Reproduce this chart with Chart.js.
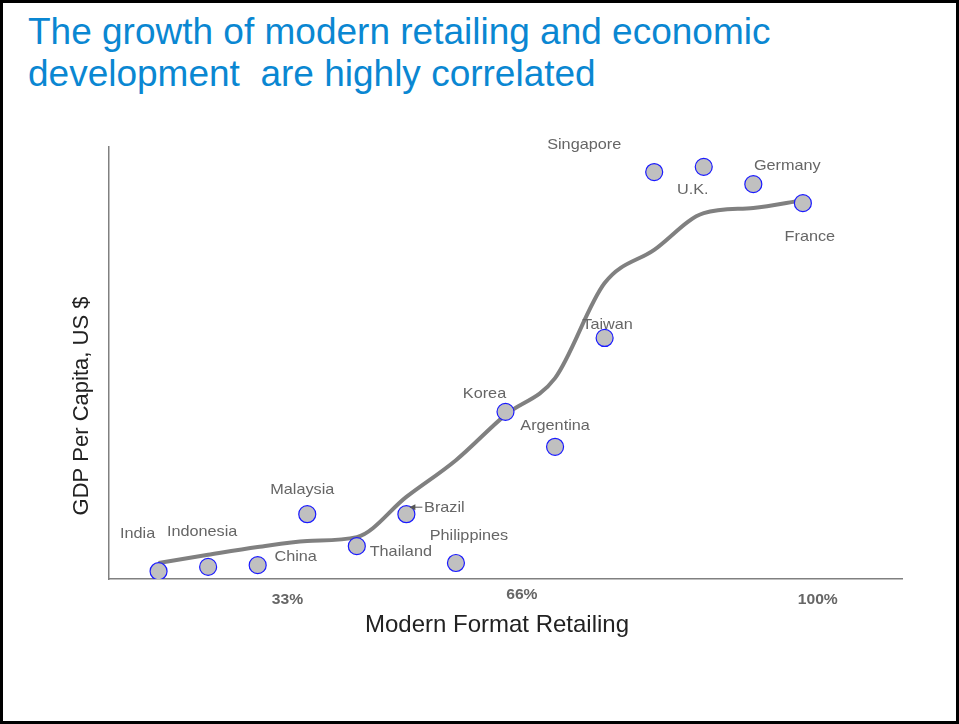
<!DOCTYPE html>
<html>
<head>
<meta charset="utf-8">
<script src="https://cdn.jsdelivr.net/npm/chart.js@4.4.1/dist/chart.umd.min.js"></script>
<style>
    html, body { margin: 0; padding: 0; background: #fff; }
    #frame {
        position: relative;
        width: 959px; height: 724px;
        box-sizing: border-box;
        border: 3px solid #000;
        overflow: hidden;
    }
    #title {
        position: absolute; left: 25px; top: 8px;
        font-family: 'Liberation Sans', Arial, sans-serif;
        font-size: 37px; line-height: 42px;
        color: #0a87d2;
        white-space: pre;
    }
    #chart { position: absolute; left: -3px; top: -3px; }
</style>
</head>
<body>
<div id="frame">
    <div id="title">The growth of modern retailing and economic
development  are highly correlated</div>
    <canvas id="chart" width="959" height="724"></canvas>
</div>
<script>
// Data
const countries = ['India', 'Indonesia', 'China', 'Malaysia', 'Thailand', 'Brazil', 'Philippines',
                   'Korea', 'Argentina', 'Taiwan', 'Singapore', 'U.K.', 'Germany', 'France'];
const retailRank = [1, 2, 3, 4, 5, 6, 7, 8, 9, 10, 11, 12, 13, 14];
const gdpValues = [1.8, 2.8, 3.2, 15.0, 7.6, 15.0, 3.7, 38.7, 30.6, 55.8, 94.2, 95.4, 91.4, 87.0];
const trendValues = [3.7, 5.6, 7.4, 8.8, 9.7, 19.0, 27.5, 38.0, 46.5, 68.5, 76.2, 84.7, 85.9, 87.7];
const tickValues = [3.6, 8.33, 14.3];
const tickLabels = ['33%', '66%', '100%'];

const FONT = "'Liberation Sans', Arial, sans-serif";
const STRETCH = 1.12; // labels in the picture look a bit wider than plain Arial

// label offsets from each point centre (px)
const labelOffset = {
    'India': [-21, -37], 'Indonesia': [-6, -35], 'China': [38, -8], 'Malaysia': [-5, -24],
    'Thailand': [44, 6], 'Brazil': [38, -6], 'Philippines': [13, -27], 'Korea': [-21, -18],
    'Argentina': [0, -21], 'Taiwan': [3, -13], 'Singapore': [-70, -27], 'U.K.': [-11, 23],
    'Germany': [34, -18], 'France': [7, 34]
};

function wideText(ctx, text, x, y) {
    ctx.save();
    ctx.translate(x, y);
    ctx.scale(STRETCH, 1);
    ctx.fillText(text, 0, 0);
    ctx.restore();
}

const textPlugin = {
    id: 'textPlugin',
    afterDatasetsDraw(chart) {
        const ctx = chart.ctx;
        const xs = chart.scales.x, ys = chart.scales.y;
        ctx.save();
        ctx.font = '14.5px ' + FONT;
        ctx.fillStyle = '#666';
        ctx.textAlign = 'center';
        ctx.textBaseline = 'middle';
        countries.forEach((c, i) => {
            const px = xs.getPixelForValue(retailRank[i]);
            const py = ys.getPixelForValue(gdpValues[i]);
            const o = labelOffset[c];
            wideText(ctx, c, px + o[0], py + o[1]);
            if (c === 'Brazil') {
                // small arrow pointing at the point
                ctx.strokeStyle = '#555';
                ctx.lineWidth = 1;
                ctx.beginPath();
                ctx.moveTo(px + 16, py - 7);
                ctx.lineTo(px + 4, py - 7);
                ctx.stroke();
                ctx.beginPath();
                ctx.moveTo(px + 3, py - 7);
                ctx.lineTo(px + 9, py - 10);
                ctx.lineTo(px + 9, py - 4);
                ctx.closePath();
                ctx.fillStyle = '#555';
                ctx.fill();
                ctx.fillStyle = '#666';
            }
        });

        // tick labels
        ctx.font = 'bold 14px ' + FONT;
        tickValues.forEach((v, i) => {
            wideText(ctx, tickLabels[i], xs.getPixelForValue(v), i === 1 ? 595 : 600);
        });

        // axis titles
        ctx.fillStyle = '#222';
        ctx.font = '24px ' + FONT;
        ctx.fillText('Modern Format Retailing', 497, 625);
        ctx.font = '22px ' + FONT;
        ctx.translate(82, 406);
        ctx.rotate(-Math.PI / 2);
        ctx.fillText('GDP Per Capita, US $', 0, 0);
        ctx.restore();
    }
};

new Chart(document.getElementById('chart'), {
    type: 'scatter',
    data: {
        datasets: [{
            label: 'Countries',
            data: retailRank.map((x, i) => ({ x: x, y: gdpValues[i] })),
            backgroundColor: '#c0c0c0',
            borderColor: '#1a1aff',
            borderWidth: 1.2,
            pointRadius: 8.5,
            pointHoverRadius: 8.5,
            order: 1
        }, {
            type: 'line',
            label: 'Trend',
            data: retailRank.map((x, i) => ({ x: x, y: trendValues[i] })),
            borderColor: '#808080',
            borderWidth: 4,
            pointRadius: 0,
            cubicInterpolationMode: 'monotone',
            fill: false,
            order: 2
        }]
    },
    options: {
        responsive: false,
        animation: false,
        layout: { padding: { left: 0, top: 147, right: 57, bottom: 64 } },
        plugins: {
            legend: { display: false },
            tooltip: { enabled: false }
        },
        scales: {
            x: {
                type: 'linear', min: 0, max: 16,
                afterBuildTicks: (s) => { s.ticks = tickValues.map(v => ({ value: v })); },
                afterFit: (s) => { s.height = 81; },
                ticks: { display: false },
                grid: { display: false, drawTicks: false },
                border: { display: true, color: '#808080', width: 1.5 }
            },
            y: {
                type: 'linear', min: 0, max: 100,
                afterFit: (s) => { s.width = 109; },
                ticks: { display: false },
                grid: { display: false, drawTicks: false },
                border: { display: true, color: '#808080', width: 1.5 }
            }
        }
    },
    plugins: [textPlugin]
});
</script>
</body>
</html>
